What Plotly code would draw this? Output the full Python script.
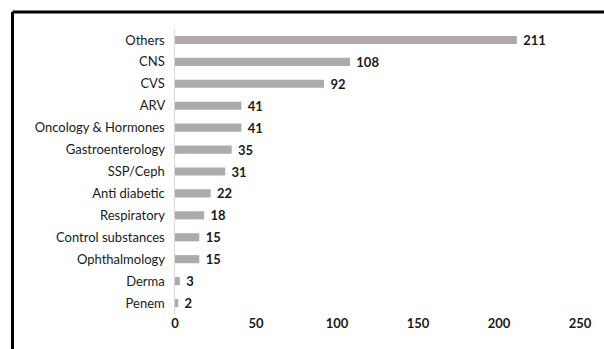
import plotly.graph_objects as go

categories = ["Others", "CNS", "CVS", "ARV", "Oncology & Hormones", "Gastroenterology",
              "SSP/Ceph", "Anti diabetic", "Respiratory", "Control substances",
              "Ophthalmology", "Derma", "Penem"]
counts = [211, 108, 92, 41, 41, 35, 31, 22, 18, 15, 15, 3, 2]
x_ticks = [0, 50, 100, 150, 200, 250]

font_family = "Lato, 'Open Sans', sans-serif"

fig = go.Figure(go.Bar(
    y=categories,
    x=counts,
    orientation="h",
    marker=dict(color="#aeaaaa", line=dict(width=0)),
    text=counts,
    textposition="outside",
    texttemplate="\u00a0<b>%{text}</b>",
    textfont=dict(family=font_family, size=13, color="#1a1a1a"),
    constraintext="none",
    cliponaxis=False,
))

W, H = 604, 349
L, R, T, B = 175, 24, 29, 35
pw, ph = W - L - R, H - T - B

def px_x(p):
    return (p - L) / pw

def px_y(p):
    return (H - B - p) / ph

# outer frame: top and left edges
fig.add_shape(type="line", xref="paper", yref="paper",
              x0=px_x(12.5), x1=px_x(610), y0=px_y(12), y1=px_y(12),
              line=dict(color="black", width=3))
fig.add_shape(type="line", xref="paper", yref="paper",
              x0=px_x(12.5), x1=px_x(12.5), y0=px_y(12), y1=px_y(355),
              line=dict(color="black", width=3))

fig.update_layout(
    width=W, height=H,
    margin=dict(l=L, r=R, t=T, b=B),
    paper_bgcolor="white", plot_bgcolor="white",
    bargap=0.63,
    showlegend=False,
    font=dict(family=font_family, size=13, color="#1a1a1a"),
    xaxis=dict(range=[0, 250], tickvals=x_ticks,
               ticktext=[f"<b>{v}</b>" for v in x_ticks],
               showgrid=False, zeroline=False, showline=False,
               ticks="", tickfont=dict(size=13, color="#1a1a1a")),
    yaxis=dict(categoryorder="array", categoryarray=categories[::-1],
               showgrid=False, zeroline=False, showline=True,
               linecolor="#d9d9d9", linewidth=1, ticks="",
               ticksuffix="  ", tickfont=dict(size=13, color="#1a1a1a")),
)

fig.write_html("out.html")
